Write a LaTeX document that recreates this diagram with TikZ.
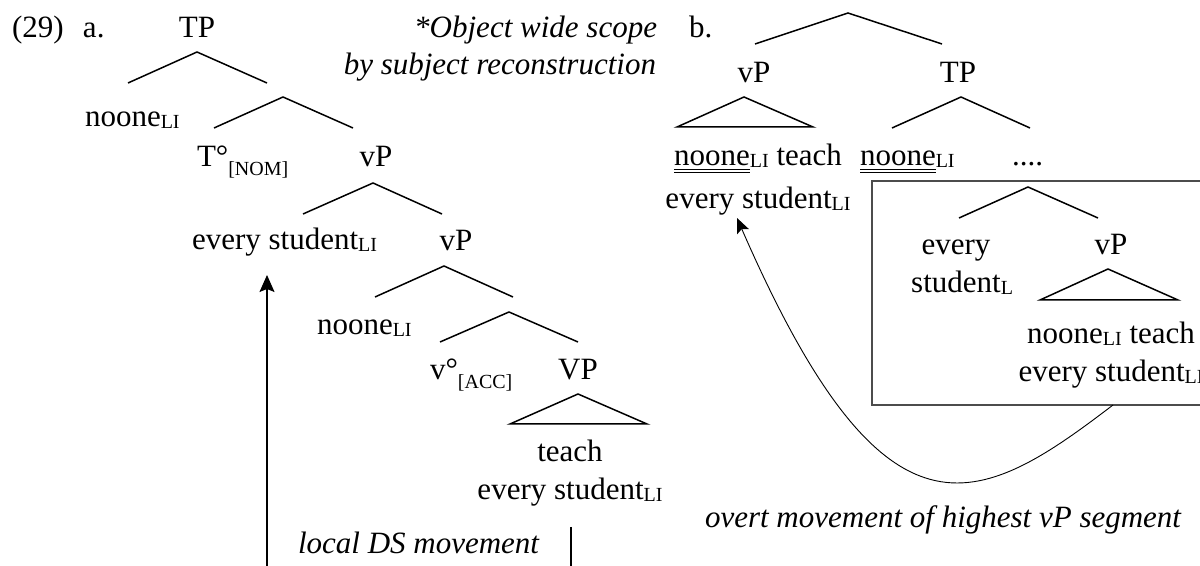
\documentclass[tikz,border=0pt]{standalone}
\usepackage{fontspec}
\setmainfont{Liberation Serif}
\usetikzlibrary{arrows.meta}
\newsavebox\dulbox
\newcommand\dul[1]{\sbox\dulbox{#1}\rlap{\rule[-2pt]{\wd\dulbox}{0.5pt}}\rlap{\rule[-3.75pt]{\wd\dulbox}{0.5pt}}\usebox\dulbox}
\newcommand\sbs[1]{\raisebox{-1pt}{\fontsize{10}{10}\selectfont #1}}
\newcommand\sbl[1]{\raisebox{-4.3pt}{\fontsize{10}{10}\selectfont #1}}
\begin{document}
\begin{tikzpicture}[x=0.5pt,y=-0.5pt,
  lbl/.style={inner sep=0pt,outer sep=0pt,font=\fontsize{15.5}{19}\selectfont},
  ital/.style={inner sep=0pt,outer sep=0pt,font=\fontsize{15.5}{19}\selectfont\itshape},
  branch/.style={line width=0.75pt,line join=miter},
  boxline/.style={line width=0.6pt,draw=black!70},
  mvline/.style={line width=0.65pt,-{Stealth[length=8.5pt,width=7.5pt,inset=1.5pt]}},
  curvemv/.style={line width=0.45pt,-{Stealth[length=7.5pt,width=6.5pt,inset=1.5pt]}},
  barline/.style={line width=0.65pt}]
\useasboundingbox (0,0) rectangle (1200,566);
% ---------- panel a ----------
\node[lbl,anchor=base west] (ex) at (12,38) {(29)};
\node[lbl,anchor=base west] (la) at (83,38) {a.};
\node[lbl,anchor=base] (aTP) at (197,38) {TP};
\node[ital,anchor=base east] (noteA) at (657,38) {*Object wide scope};
\node[ital,anchor=base east] (noteB) at (656,75) {by subject reconstruction};
\node[lbl,anchor=base west] (aNo1) at (85,127) {noone\sbs{LI}};
\node[lbl,anchor=base west] (aT) at (197,167) {T°\sbl{[NOM]}};
\node[lbl,anchor=base] (avP1) at (376,167) {vP};
\node[lbl,anchor=base west] (aES) at (192,250) {every student\sbs{LI}};
\node[lbl,anchor=base] (avP2) at (456,251) {vP};
\node[lbl,anchor=base west] (aNo2) at (317,335) {noone\sbs{LI}};
\node[lbl,anchor=base west] (av) at (430,380) {v°\sbl{[ACC]}};
\node[lbl,anchor=base] (aVP) at (578,380) {VP};
\node[lbl,anchor=base,align=center] (aTe) at (570,500) {teach\\every student\sbs{LI}};
\node[ital,anchor=base west] (aDS) at (298,553) {local DS movement};
% branches a
\coordinate (a1A) at (197,52);  \coordinate (a1L) at (128,83);  \coordinate (a1R) at (267,83);
\coordinate (a2A) at (283,97);  \coordinate (a2L) at (214,128); \coordinate (a2R) at (353,128);
\coordinate (a3A) at (373,183); \coordinate (a3L) at (303,214); \coordinate (a3R) at (442,214);
\coordinate (a4A) at (444,266); \coordinate (a4L) at (375,297); \coordinate (a4R) at (513,297);
\coordinate (a5A) at (509,312); \coordinate (a5L) at (440,342); \coordinate (a5R) at (578,342);
\coordinate (a6A) at (578,394); \coordinate (a6L) at (510,424); \coordinate (a6R) at (647,424);
\draw[branch] (a1L) -- (a1A) -- (a1R);
\draw[branch] (a2L) -- (a2A) -- (a2R);
\draw[branch] (a3L) -- (a3A) -- (a3R);
\draw[branch] (a4L) -- (a4A) -- (a4R);
\draw[branch] (a5L) -- (a5A) -- (a5R);
\draw[branch] (a6A) -- (a6L) -- (a6R) -- cycle;
\coordinate (barT) at (571,527); \coordinate (barB) at (571,570);
\draw[barline] (barT) -- (barB);
\coordinate (arS) at (267,570); \coordinate (arT) at (267,275);
\draw[mvline] (arS) -- (arT);
% ---------- panel b ----------
\node[lbl,anchor=base west] (lb) at (689,38) {b.};
\node[lbl,anchor=base] (bvP) at (754,83) {vP};
\node[lbl,anchor=base] (bTP) at (958,83) {TP};
\node[lbl,anchor=base,align=center] (bvPt) at (758,209) {\dul{noone}\sbs{LI} teach\\[2.5pt]every student\sbs{LI}};
\node[lbl,anchor=base west] (bNo) at (860,166) {\dul{noone}\sbs{LI}};
\node[lbl,anchor=base west] (bDots) at (1012,166) {....};
\node[lbl,anchor=base,align=center] (bES) at (956,293) {every\\student\rlap{\sbs{L}}};
\node[lbl,anchor=base] (bvP2) at (1111,255) {vP};
\node[lbl,anchor=base,align=center] (bTe) at (1111,382) {noone\sbs{LI} teach\\every student\sbs{LI}};
\node[ital,anchor=base west] (bOv) at (705,528) {overt movement of highest vP segment};
\coordinate (b1A) at (848,13);   \coordinate (b1L) at (755,44);   \coordinate (b1R) at (942,44);
\coordinate (b2A) at (744,97);   \coordinate (b2L) at (677,127);  \coordinate (b2R) at (813,127);
\coordinate (b3A) at (961,97);   \coordinate (b3L) at (892,128);  \coordinate (b3R) at (1030,128);
\coordinate (b4A) at (1028,187); \coordinate (b4L) at (959,218);  \coordinate (b4R) at (1098,218);
\coordinate (b5A) at (1108,269); \coordinate (b5L) at (1040,300); \coordinate (b5R) at (1178,300);
\draw[branch] (b1L) -- (b1A) -- (b1R);
\draw[branch] (b2A) -- (b2L) -- (b2R) -- cycle;
\draw[branch] (b3L) -- (b3A) -- (b3R);
\draw[branch] (b4L) -- (b4A) -- (b4R);
\draw[branch] (b5A) -- (b5L) -- (b5R) -- cycle;
\coordinate (boxNW) at (872,181); \coordinate (boxSE) at (1215,405);
\draw[boxline] (boxNW) rectangle (boxSE);
\coordinate (cS) at (1113,405); \coordinate (cE) at (737,218);
\draw[curvemv] (cS) .. controls (977,509) and (885,558) .. (cE);
\end{tikzpicture}
\end{document}
